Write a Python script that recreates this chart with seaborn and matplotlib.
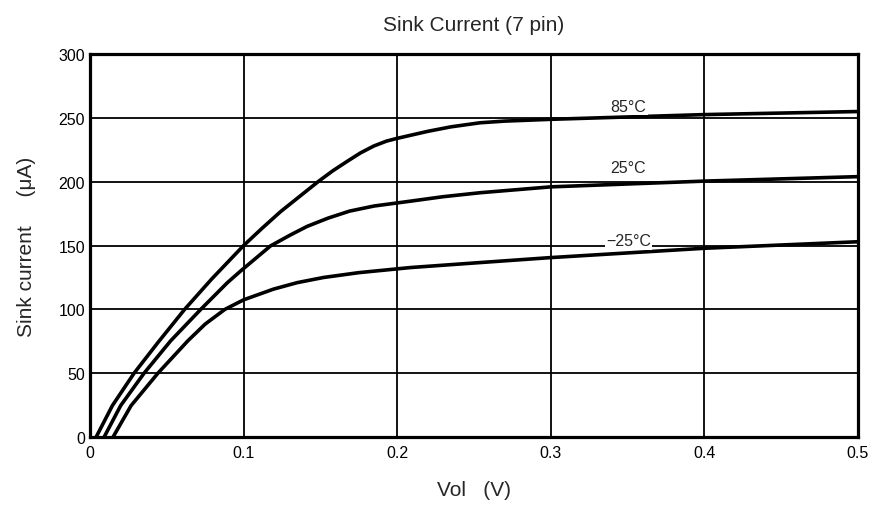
import numpy as np
import pandas as pd
import matplotlib
matplotlib.use("Agg")
import matplotlib.pyplot as plt
import seaborn as sns

# 読み取った値 (Vol [V], Sink current [uA])
v_85 = [0.0040, 0.0146, 0.0287, 0.0442, 0.0616, 0.0790, 0.1000, 0.1120, 0.1240, 0.1370,
        0.1490, 0.1580, 0.1675, 0.1760, 0.1848, 0.1930, 0.2000, 0.2200, 0.2350, 0.2540,
        0.2700, 0.3000, 0.4000, 0.5000]
i_85 = [0, 24.7, 50, 74, 100, 123.5, 150, 163.5, 176.5, 189,
        200.5, 208.5, 216, 222.5, 228, 231.8, 234, 239.5, 243, 246.2,
        247.5, 248.9, 252.6, 255]

v_25 = [0.0092, 0.0200, 0.0352, 0.0526, 0.0721, 0.0895, 0.0980, 0.1175, 0.1300, 0.1413,
        0.1550, 0.1690, 0.1850, 0.2087, 0.2300, 0.2540, 0.3000, 0.4000, 0.5000]
i_25 = [0, 24.7, 50, 75.5, 100, 121, 130, 149.7, 158, 165,
        171.5, 177, 181, 184.8, 188.3, 191.4, 196, 200.5, 204]

v_m25 = [0.0150, 0.0268, 0.0442, 0.0638, 0.0750, 0.0878, 0.1000, 0.1195, 0.1350, 0.1520,
         0.1750, 0.2087, 0.2540, 0.3000, 0.4000, 0.5000]
i_m25 = [0, 24.7, 50, 75.5, 88.5, 100, 107.5, 115.9, 121, 125,
         128.8, 132.8, 136.7, 140.6, 147.9, 153]

curve_labels = ["85°C", "25°C", "\u221225°C"]
label_pos = [(0.3506, 255.6), (0.3506, 207.5), (0.3506, 150.2)]

x_ticks = [0, 0.1, 0.2, 0.3, 0.4, 0.5]
x_ticklabels = ["0", "0.1", "0.2", "0.3", "0.4", "0.5"]
y_ticks = [0, 50, 100, 150, 200, 250, 300]

df = pd.concat([
    pd.DataFrame({"vol": v_85, "cur": i_85, "temp": "85"}),
    pd.DataFrame({"vol": v_25, "cur": i_25, "temp": "25"}),
    pd.DataFrame({"vol": v_m25, "cur": i_m25, "temp": "-25"}),
], ignore_index=True)

sns.set_style("white")
plt.rcParams["font.family"] = ["Liberation Sans", "DejaVu Sans"]

fig = plt.figure(figsize=(8.71, 5.10), dpi=100)
ax = fig.add_axes([0.1033, 0.141, 0.8817, 0.751])

sns.lineplot(data=df, x="vol", y="cur", hue="temp", units="temp", estimator=None,
             palette=["black", "black", "black"], linewidth=2.6, legend=False,
             ax=ax, zorder=3)

ax.set_xlim(0, 0.5)
ax.set_ylim(0, 300)
ax.set_xticks(x_ticks)
ax.set_xticklabels(x_ticklabels)
ax.set_yticks(y_ticks)
ax.tick_params(axis="both", length=0, labelsize=11.5, colors="black")
ax.tick_params(axis="x", pad=6)
ax.tick_params(axis="y", pad=3.5)

ax.grid(True, color="black", linewidth=1.3, zorder=1)
ax.set_axisbelow(True)
for side in ["left", "top", "bottom", "right"]:
    ax.spines[side].set_linewidth(2.3)
    ax.spines[side].set_color("black")

for txt, (xx, yy) in zip(curve_labels, label_pos):
    ax.text(xx, yy, txt, ha="center", va="baseline", fontsize=11.5, zorder=4,
            bbox=dict(facecolor="white", edgecolor="none", pad=1.0))

ax.set_title("Sink Current (7 pin)", fontsize=15, pad=17)
ax.set_xlabel("Vol   (V)", fontsize=15, labelpad=14)
ax.set_ylabel("Sink current     (\u03bcA)", fontsize=15, labelpad=16)

fig.savefig("out.png", dpi=100)
